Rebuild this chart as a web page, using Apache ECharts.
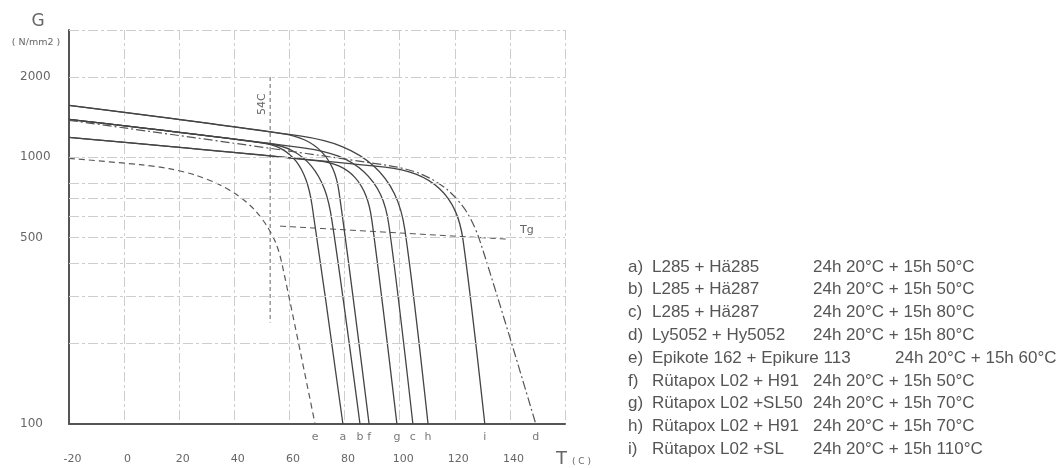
<!DOCTYPE html>
<html><head><meta charset="utf-8">
<script src="https://cdn.jsdelivr.net/npm/echarts@6/dist/echarts.min.js"></script>
<style>html,body{margin:0;padding:0;background:#fff}#c{width:1061px;height:468px}</style>
</head><body><div id="c"></div>
<script>
// ---- data ----
const xTickLabels = [-20, 0, 20, 40, 60, 80, 100, 120, 140];
const yTickLabels = [100, 500, 1000, 2000];
const yGridValues = [200, 300, 400, 500, 600, 700, 800, 1000, 2000, 3000];
const curveLetters = ['a', 'b', 'c', 'd', 'e', 'f', 'g', 'h', 'i'];

const serA = [[-20,1388],[50.0,1133],[56.9,1078],[62.3,969],[66.0,823],[68.2,661],[79.4,100]];
const serB = [[-20,1388],[52.2,1126],[61.1,1058],[67.9,928],[72.7,760],[75.4,581],[85.6,100]];
const serC = [[-20,1388],[65.6,1083],[77.8,1009],[87.0,882],[93.1,723],[96.1,556],[104.8,100]];
const serD = [[-20,1376],[96.5,929],[108.0,863],[117.3,756],[124.4,622],[129.2,483],[149.4,100]];
const serE = [[-20,991],[5.8,938],[16.4,906],[25.9,857],[34.1,794],[41.2,720],[47.1,639],[51.7,555],[55.2,473],[57.4,394],[69.3,100]];
const serF = [[-20,1566],[57.3,1227],[65.4,1163],[71.6,1050],[75.8,903],[78.0,740],[88.9,100]];
const serG = [[-20,1188],[70.3,970],[78.1,926],[83.9,837],[87.8,716],[89.9,581],[99.0,100]];
const serH = [[-20,1566],[63.8,1202],[79.1,1097],[90.5,929],[98.1,730],[101.9,533],[110.3,100]];
const serI = [[-20,1188],[94.7,918],[105.9,864],[114.4,763],[120.1,631],[123.0,489],[130.9,100]];

const line54C = [[53,2000],[53,240]];
const tgLine = [[56.6,552],[139.3,493]];

const legendNames = ['L285 + Hä285', 'L285 + Hä287', 'L285 + Hä287', 'Ly5052 + Hy5052', 'Epikote 162 + Epikure 113', 'Rütapox L02 + H91', 'Rütapox L02 +SL50', 'Rütapox L02 + H91', 'Rütapox L02 +SL'];
const legendCures = ['24h 20°C + 15h 50°C', '24h 20°C + 15h 50°C', '24h 20°C + 15h 80°C', '24h 20°C + 15h 80°C', '24h 20°C + 15h 60°C', '24h 20°C + 15h 50°C', '24h 20°C + 15h 70°C', '24h 20°C + 15h 70°C', '24h 20°C + 15h 110°C'];

// ---- chart ----
const allCurves = [serA, serB, serC, serD, serE, serF, serG, serH, serI];
const LINE = '#444';
const styleFor = (letter) => {
  if (letter === 'd') return { color: '#555', width: 1.2, type: [9, 3, 2, 3] };
  if (letter === 'e') return { color: '#5a5a5a', width: 1.2, type: [6, 4] };
  return { color: LINE, width: 1.3, type: 'solid' };
};

const series = allCurves.map((d, i) => ({
  type: 'line', name: curveLetters[i], data: d,
  showSymbol: false, smooth: 0.3,
  lineStyle: styleFor(curveLetters[i]), silent: true, z: 3, clip: false
}));

series.push({
  type: 'line', name: '54C', data: line54C, showSymbol: false, silent: true, z: 2,
  lineStyle: { color: '#666', width: 1, type: [4, 3] },
  markLine: {
    silent: true, symbol: 'none', animation: false,
    label: { show: false },
    lineStyle: { color: '#cdcdcd', width: 1, type: [10, 3, 3, 3] },
    data: yGridValues.map(v => ({ yAxis: v }))
  }
});
series.push({
  type: 'line', name: 'Tg', data: tgLine, showSymbol: false, silent: true, z: 2,
  lineStyle: { color: '#555', width: 1, type: [6, 4] }
});
series.push({
  type: 'scatter', name: 'endLabels', silent: true, z: 4,
  data: allCurves.map(d => d[d.length - 1]),
  symbolSize: 0,
  label: {
    show: true, position: 'bottom', distance: 8,
    formatter: p => curveLetters[p.dataIndex],
    color: '#555', fontSize: 11, fontFamily: 'DejaVu Sans'
  }
});

const chart = echarts.init(document.getElementById('c'));
chart.setOption({
  animation: false,
  backgroundColor: '#fff',
  grid: { left: 69, right: 496, top: 30, bottom: 44 },
  xAxis: {
    type: 'value', min: -20, max: 160, interval: 20,
    axisLine: { show: true, onZero: false, lineStyle: { color: '#555', width: 2 } },
    axisTick: { show: false },
    splitLine: { show: true, lineStyle: { color: '#cdcdcd', width: 1, type: [10, 3, 3, 3] } },
    axisLabel: {
      margin: 30, color: '#666', fontSize: 11, fontFamily: 'DejaVu Sans',
      padding: [0, 0, 0, 7],
      formatter: v => xTickLabels.includes(v) ? String(v) : ''
    }
  },
  yAxis: {
    type: 'log', logBase: 10, min: 100, max: 3000,
    axisLine: { show: true, onZero: false, lineStyle: { color: '#555', width: 2 } },
    axisTick: { show: false },
    axisLabel: { show: false },
    splitLine: { show: false }
  },
  series: series
});

// ---- texts placed through the axis scales ----
const px = v => chart.convertToPixel({ xAxisIndex: 0 }, v);
const py = v => chart.convertToPixel({ yAxisIndex: 0 }, v);
const g = [];
yTickLabels.forEach(v => {
  g.push({ type: 'text', x: 20, y: py(v), style: { text: String(v), fill: '#666', font: '12px "DejaVu Sans"', textAlign: 'left', textVerticalAlign: 'middle' } });
});
g.push({ type: 'text', x: 38, y: 22, style: { text: 'G', fill: '#666', font: '17px "DejaVu Sans"', textAlign: 'center', textVerticalAlign: 'middle' } });
g.push({ type: 'text', x: 36, y: 43, style: { text: '( N/mm2 )', fill: '#666', font: '9.5px "DejaVu Sans"', textAlign: 'center', textVerticalAlign: 'middle' } });
g.push({ type: 'text', x: px(line54C[0][0]) - 8, y: py(1580), rotation: Math.PI / 2,
  style: { text: '54C', fill: '#666', font: '11px "DejaVu Sans"', textAlign: 'center', textVerticalAlign: 'middle' } });
g.push({ type: 'text', x: px(tgLine[1][0]) + 12, y: py(tgLine[1][1]) - 9,
  style: { text: 'Tg', fill: '#666', font: '11px "DejaVu Sans"', textAlign: 'left', textVerticalAlign: 'middle' } });
g.push({ type: 'text', x: px(160) - 9, y: 459,
  style: { text: 'T', fill: '#666', font: '18px "DejaVu Sans"', textAlign: 'left', textVerticalAlign: 'middle' } });
g.push({ type: 'text', x: px(160) + 7, y: 462,
  style: { text: '( C )', fill: '#666', font: '9px "DejaVu Sans"', textAlign: 'left', textVerticalAlign: 'middle' } });

curveLetters.forEach((l, i) => {
  const y = 267 + i * 22.8;
  const font = '17px "Liberation Sans"';
  g.push({ type: 'text', x: 628, y: y, style: { text: l + ')', fill: '#555', font, textVerticalAlign: 'middle' } });
  g.push({ type: 'text', x: 652, y: y, style: { text: legendNames[i], fill: '#555', font, textVerticalAlign: 'middle' } });
  g.push({ type: 'text', x: l === 'e' ? 895 : 813, y: y, style: { text: legendCures[i], fill: '#555', font, textVerticalAlign: 'middle' } });
});
chart.setOption({ graphic: g });
</script>
</body></html>
